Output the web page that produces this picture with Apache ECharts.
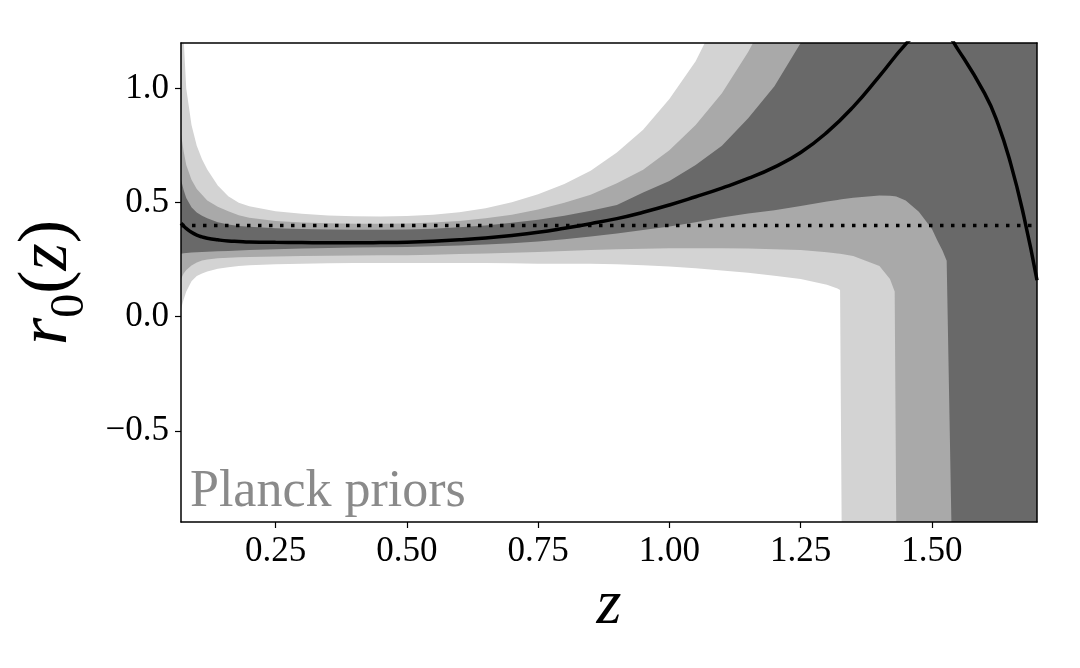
<!DOCTYPE html>
<html>
<head>
<meta charset="utf-8">
<script src="https://cdn.jsdelivr.net/npm/echarts@6.0.0/dist/echarts.min.js"></script>
<style>
  html, body { margin: 0; padding: 0; background: #fff; }
  #chart { width: 1080px; height: 668px; }
</style>
</head>
<body>
<div id="chart"></div>
<script>
// redshift grid shared by all band edges
const zGrid = [
  0.07, 0.075, 0.08, 0.09, 0.10, 0.11, 0.12, 0.14, 0.16, 0.18, 0.20,
  0.25, 0.30, 0.35, 0.40, 0.45, 0.50, 0.55, 0.60, 0.65, 0.70, 0.75,
  0.80, 0.85, 0.90, 0.95, 1.00, 1.05, 1.10, 1.15, 1.20, 1.25, 1.30,
  1.32, 1.325, 1.328, 1.35, 1.40, 1.42, 1.429, 1.432, 1.45, 1.475,
  1.50, 1.51, 1.52, 1.528, 1.537, 1.55, 1.60, 1.65, 1.675, 1.70
];

// 3 sigma band (light)
const upper3 = [
  1.6, 1.22, 1.0, 0.84, 0.75, 0.69, 0.645, 0.575, 0.528, 0.50, 0.484,
  0.462, 0.451, 0.444, 0.440, 0.439, 0.441, 0.447, 0.458, 0.476, 0.502, 0.537,
  0.582, 0.64, 0.72, 0.82, 0.955, 1.12, 1.35, 1.6, 2, 2, 2,
  2, 2, 2, 2, 2, 2, 2, 2, 2, 2,
  2, 2, 2, 2, 2, 2, 2, 2, 2, 2
];
const lower3 = [
  0.035, 0.075, 0.11, 0.155, 0.178, 0.19, 0.198, 0.21, 0.217, 0.222, 0.226,
  0.23, 0.232, 0.234, 0.235, 0.236, 0.236, 0.236, 0.236, 0.235, 0.234, 0.232,
  0.232, 0.232, 0.23, 0.226, 0.22, 0.212, 0.203, 0.193, 0.18, 0.165, 0.14,
  0.124, 0.117, -0.9, -3, -3, -3, -3, -3, -3, -3,
  -3, -3, -3, -3, -3, -3, -3, -3, -3, -3
];

// 2 sigma band (medium)
const upper2 = [
  0.80, 0.725, 0.665, 0.60, 0.56, 0.535, 0.51, 0.482, 0.462, 0.445, 0.434,
  0.42, 0.413, 0.41, 0.408, 0.408, 0.409, 0.413, 0.42, 0.432, 0.447, 0.47,
  0.50, 0.535, 0.585, 0.644, 0.73, 0.84, 0.98, 1.16, 1.38, 1.7, 2,
  2, 2, 2, 2, 2, 2, 2, 2, 2, 2,
  2, 2, 2, 2, 2, 2, 2, 2, 2, 2
];
const lower2 = [
  0.165, 0.19, 0.205, 0.225, 0.238, 0.246, 0.251, 0.256, 0.259, 0.261, 0.262,
  0.264, 0.266, 0.267, 0.268, 0.269, 0.27, 0.272, 0.275, 0.277, 0.28, 0.284,
  0.288, 0.292, 0.296, 0.298, 0.30, 0.30, 0.30, 0.299, 0.296, 0.292, 0.283,
  0.277, 0.276, 0.275, 0.266, 0.222, 0.165, 0.11, -0.9, -2.5, -3,
  -3, -3, -3, -3, -3, -3, -3, -3, -3, -3
];

// 1 sigma band (dark)
const upper1 = [
  0.60, 0.555, 0.52, 0.48, 0.457, 0.443, 0.432, 0.414, 0.404, 0.398, 0.394,
  0.388, 0.385, 0.382, 0.381, 0.381, 0.382, 0.386, 0.392, 0.40, 0.412, 0.425,
  0.443, 0.465, 0.49, 0.545, 0.595, 0.665, 0.75, 0.87, 1.01, 1.2, 1.45,
  1.55, 1.58, 1.6, 1.75, 2, 2, 2, 2, 2, 2,
  2, 2, 2, 2, 2, 2, 2, 2, 2, 2
];
const lower1 = [
  0.276, 0.278, 0.279, 0.281, 0.283, 0.284, 0.285, 0.287, 0.288, 0.29, 0.292,
  0.296, 0.299, 0.301, 0.303, 0.304, 0.306, 0.309, 0.312, 0.317, 0.322, 0.33,
  0.34, 0.352, 0.365, 0.38, 0.395, 0.414, 0.435, 0.452, 0.467, 0.485, 0.505,
  0.512, 0.514, 0.515, 0.522, 0.531, 0.53, 0.528, 0.527, 0.51, 0.46,
  0.385, 0.335, 0.29, 0.245, -0.9, -2.5, -3, -3, -3, -3
];

// best fit r0(z)
const meanZ = [
  0.07, 0.075, 0.08, 0.09, 0.10, 0.11, 0.12, 0.14, 0.16, 0.18, 0.20,
  0.25, 0.30, 0.35, 0.40, 0.45, 0.50, 0.55, 0.60, 0.65, 0.70, 0.75,
  0.80, 0.85, 0.90, 0.95, 1.00, 1.05, 1.10, 1.15, 1.20, 1.25, 1.30,
  1.35, 1.40, 1.45, 1.475, 1.50, 1.525, 1.55, 1.60, 1.625, 1.65, 1.675, 1.70
];
const meanR = [
  0.41, 0.398, 0.387, 0.37, 0.358, 0.35, 0.344, 0.337, 0.332, 0.33, 0.328,
  0.326, 0.325, 0.324, 0.324, 0.325, 0.327, 0.331, 0.337, 0.345, 0.356, 0.37,
  0.388, 0.408, 0.43, 0.458, 0.49, 0.526, 0.564, 0.606, 0.656, 0.72, 0.808,
  0.92, 1.055, 1.195, 1.245, 1.265, 1.245, 1.17, 0.98, 0.85, 0.67, 0.44, 0.16
];

// fiducial value
const refZ = [0.07, 1.70];
const refR = 0.4;

const xTicks = [0.25, 0.50, 0.75, 1.00, 1.25, 1.50];
const yTicks = [-0.5, 0.0, 0.5, 1.0];

const serif = 'Liberation Serif';

// filled region between lower and upper, drawn as one polygon clipped to the grid
function band(name, lower, upper, color) {
  return {
    name: name,
    type: 'custom',
    silent: true,
    clip: true,
    data: zGrid.map((z, i) => [z, lower[i], upper[i]]),
    encode: { x: 0, y: [1, 2] },
    renderItem: (params, api) => {
      if (params.dataIndexInside !== 0) return null;
      const top = zGrid.map((z, i) => api.coord([z, upper[i]]));
      const bottom = zGrid.map((z, i) => api.coord([z, lower[i]])).reverse();
      const cs = params.coordSys;
      return {
        type: 'polygon',
        shape: { points: top.concat(bottom) },
        style: { fill: color, stroke: null },
        clipPath: { type: 'rect', shape: { x: cs.x, y: cs.y, width: cs.width, height: cs.height } }
      };
    }
  };
}

const chart = echarts.init(document.getElementById('chart'), null, { renderer: 'canvas' });

const frame = { show: true, onZero: false, lineStyle: { color: '#000', width: 1.5 } };

chart.setOption({
  animation: false,
  backgroundColor: '#fff',
  grid: { left: 181, right: 43, top: 43, bottom: 146, outerBoundsMode: 'none' },
  xAxis: [
    {
      type: 'value', min: 0.07, max: 1.70, z: 10,
      axisLine: frame,
      axisTick: { show: true, length: 6, customValues: xTicks, lineStyle: { color: '#000', width: 1.2 } },
      axisLabel: {
        customValues: xTicks, margin: 12, color: '#000',
        fontFamily: serif, fontSize: 35,
        formatter: v => v.toFixed(2)
      },
      splitLine: { show: false },
      name: 'z', nameLocation: 'middle', nameGap: 46,
      nameTextStyle: { fontFamily: serif, fontStyle: 'italic', fontSize: 64, color: '#000' }
    },
    {
      type: 'value', min: 0.07, max: 1.70, position: 'top', z: 10,
      axisLine: frame, axisTick: { show: false }, axisLabel: { show: false },
      splitLine: { show: false }
    }
  ],
  yAxis: [
    {
      type: 'value', min: -0.9, max: 1.2, z: 10,
      axisLine: frame,
      axisTick: { show: true, length: 6, customValues: yTicks, lineStyle: { color: '#000', width: 1.2 } },
      axisLabel: {
        customValues: yTicks, margin: 12, color: '#000',
        fontFamily: serif, fontSize: 35,
        formatter: v => v.toFixed(1).replace('-', '\u2212')
      },
      splitLine: { show: false },
      name: '{i|r}{s|0}{p|(}{i|z}{p|)}',
      nameLocation: 'middle', nameRotate: 90, nameGap: 80,
      nameTextStyle: {
        rich: {
          i: { fontFamily: serif, fontStyle: 'italic', fontSize: 70, lineHeight: 70, padding: [0, 0, 12, 0], verticalAlign: 'bottom', color: '#000' },
          p: { fontFamily: serif, fontSize: 70, lineHeight: 70, padding: [0, 0, 12, 0], verticalAlign: 'bottom', color: '#000' },
          s: { fontFamily: serif, fontSize: 48, lineHeight: 48, verticalAlign: 'bottom', color: '#000' }
        }
      }
    },
    {
      type: 'value', min: -0.9, max: 1.2, position: 'right', z: 10,
      axisLine: frame, axisTick: { show: false }, axisLabel: { show: false },
      splitLine: { show: false }
    }
  ],
  graphic: [{
    type: 'text', left: 190, top: 466, silent: true,
    style: { text: 'Planck priors', fill: '#8a8a8a', font: '52px "Liberation Serif"' }
  }],
  series: [
    band('3sigma', lower3, upper3, '#d3d3d3'),
    band('2sigma', lower2, upper2, '#a9a9a9'),
    band('1sigma', lower1, upper1, '#696969'),
    {
      name: 'mean', type: 'line', symbol: 'none', smooth: 0.5,
      lineStyle: { color: '#000', width: 3.5 },
      data: meanZ.map((z, i) => [z, meanR[i]])
    },
    {
      name: 'fiducial', type: 'line', symbol: 'none',
      lineStyle: { color: '#000', width: 3.5, type: [3.5, 7.5], cap: 'butt' },
      data: refZ.map(z => [z, refR])
    }
  ]
});
</script>
</body>
</html>
